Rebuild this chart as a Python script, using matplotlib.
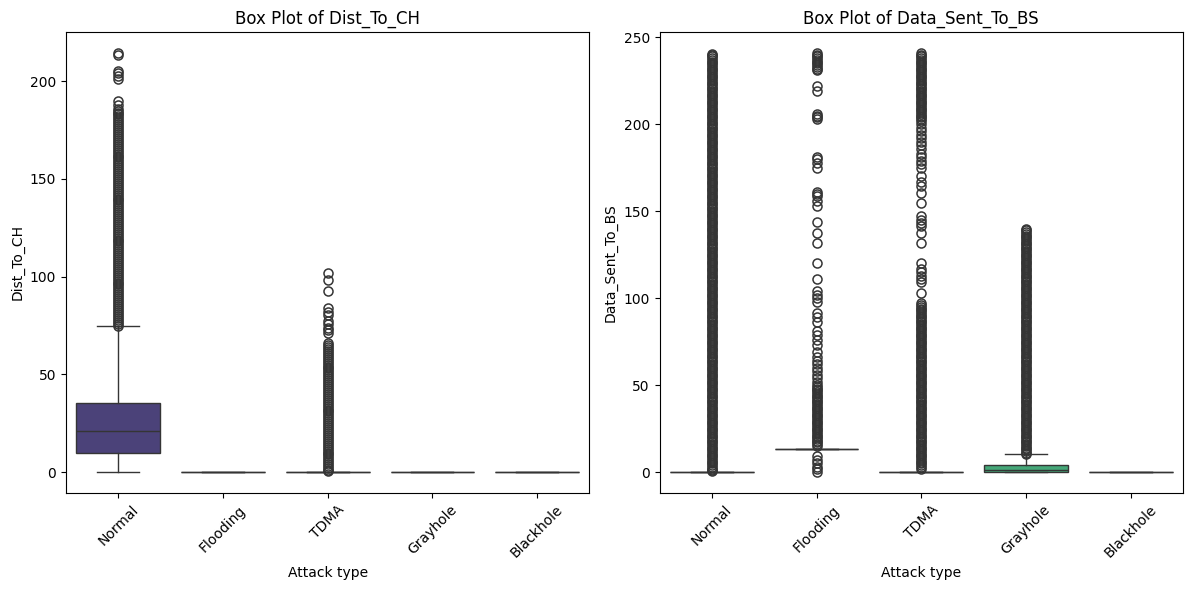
import matplotlib
matplotlib.use("Agg")
import matplotlib.pyplot as plt
import numpy as np
import colorsys

categories = ["Normal", "Flooding", "TDMA", "Grayhole", "Blackhole"]

# ---- Dist_To_CH : box statistics (q1, median, q3, whisker low, whisker high)
dist_q1 = [9.5, 0, 0, 0, 0]
dist_med = [21.0, 0, 0, 0, 0]
dist_q3 = [35.2, 0, 0, 0, 0]
dist_wlo = [0, 0, 0, 0, 0]
dist_whi = [74.7, 0, 0, 0, 0]

dist_out_normal = [
    75, 76, 77, 78, 79, 80, 81, 82, 83, 84, 85, 86, 87, 88, 89, 90, 91, 92, 93, 94,
    95, 96, 97, 98, 99, 100, 101, 102, 103, 104, 105, 106, 107, 108, 109, 110, 111, 112, 113, 114,
    115, 116, 117, 118, 119, 120, 121, 122, 123, 124, 125, 126, 127, 128, 129, 130, 131, 132, 133, 134,
    135, 136, 137, 138, 139, 140, 141, 142, 143, 144, 145, 146, 147, 148, 149, 150, 151, 152, 153, 154,
    155, 156, 157, 158, 159, 160, 161, 162, 163, 164, 165, 166, 167, 168, 169, 170, 171, 172, 173, 174,
    175, 176, 177, 178, 179, 180, 181, 182, 183, 184, 185, 186,
    188, 190, 201, 202.5, 204, 205.5, 213.5, 214.5]
dist_out_flooding = []
dist_out_tdma = [
    0.5, 1, 2, 3, 4, 5, 6, 7, 8, 9, 10, 11, 12, 13, 14, 15, 16, 17, 18, 19, 20,
    21, 22, 23, 24, 25, 26, 27, 28, 29, 30, 31, 32, 33, 34, 35, 36, 37, 38, 39, 40,
    41, 42, 43, 44, 45, 46, 47, 48, 49, 50, 51, 52, 53, 54, 55, 56, 57, 58, 59, 60,
    61, 62, 63, 64, 65, 65.8,
    71, 72.5, 73.5, 76, 77.5, 80.4, 82, 83.8, 92.5, 98.5, 102]
dist_out_grayhole = []
dist_out_blackhole = []

# ---- Data_Sent_To_BS : box statistics
data_q1 = [0, 13, 0, 0, 0]
data_med = [0, 13, 0, 1.0, 0]
data_q3 = [0, 13, 0, 4.2, 0]
data_wlo = [0, 13, 0, 0, 0]
data_whi = [0, 13, 0, 10.3, 0]

data_out_normal = [
    0.5, 1, 2, 3, 4, 5, 6, 7, 8, 9, 10, 11, 12, 13, 14, 15, 16, 17, 18, 19, 20,
    21, 22, 23, 24, 25, 26, 27, 28, 29, 30, 31, 32, 33, 34, 35, 36, 37, 38, 39, 40,
    41, 42, 43, 44, 45, 46, 47, 48, 49, 50, 51, 52, 53, 54, 55, 56, 57, 58, 59, 60,
    61, 62, 63, 64, 65, 66, 67, 68, 69, 70, 71, 72, 73, 74, 75, 76, 77, 78, 79, 80,
    81, 82, 83, 84, 85, 86, 87, 88, 89, 90, 91, 92, 93, 94, 95, 96, 97, 98, 99, 100,
    101, 102, 103, 104, 105, 106, 107, 108, 109, 110, 111, 112, 113, 114, 115, 116, 117, 118, 119, 120,
    121, 122, 123, 124, 125, 126, 127, 128, 129, 130, 131, 132, 133, 134, 135, 136, 137, 138, 139, 140,
    141, 142, 143, 144, 145, 146, 147, 148, 149, 150, 151, 152, 153, 154, 155, 156, 157, 158, 159, 160,
    161, 162, 163, 164, 165, 166, 167, 168, 169, 170, 171, 172, 173, 174, 175, 176, 177, 178, 179, 180,
    181, 182, 183, 184, 185, 186, 187, 188, 189, 190, 191, 192, 193, 194, 195, 196, 197, 198, 199, 200,
    201, 202, 203, 204, 205, 206, 207, 208, 209, 210, 211, 212, 213, 214, 215, 216, 217, 218, 219, 220,
    221, 222, 223, 224, 225, 226, 227, 228, 229, 230, 231, 232, 233, 234, 235, 236, 237, 238, 239, 240,
    240.5]
data_out_flooding = [
    0, 1.5, 3, 5, 7, 9.5,
    15, 16, 17, 18, 19, 20, 21, 22, 23, 24, 25, 26, 27, 28, 29, 30, 31, 32, 33, 34,
    35, 36, 37, 38, 39, 40, 41, 42, 43, 44, 45, 46, 47, 48, 49, 50,
    52, 54, 56, 58, 60, 62, 64, 66, 69, 73, 76, 79, 81, 86, 89, 91.5, 97.5, 100, 102, 104,
    111, 120, 132, 137.5, 144, 153, 156, 159, 160, 161, 175, 178, 180, 181,
    203, 204, 205, 206, 219, 222,
    231, 232, 233, 234, 235, 236, 237, 238, 239, 240, 241]
data_out_tdma = [
    2, 3, 4, 5, 6, 7, 8, 9, 10, 11, 12, 13, 14, 15, 16, 17, 18, 19, 20,
    21, 22, 23, 24, 25, 26, 27, 28, 29, 30, 31, 32, 33, 34, 35, 36, 37, 38, 39, 40,
    41, 42, 43, 44, 45, 46, 47, 48, 49, 50, 51, 52, 53, 54, 55, 56, 57, 58, 59, 60,
    61, 62, 63, 64, 65, 66, 67, 68, 69, 70, 71, 72, 73, 74, 75, 76, 77, 78, 79, 80,
    81, 82, 83, 84, 85, 86, 87, 88, 89, 90, 91, 92, 93, 94, 95, 96, 97,
    103, 109, 111, 113, 115, 117, 120.5, 132, 137.5, 141.5, 143, 145, 147,
    155, 160.5, 164.5, 167, 170, 175, 177, 179, 181, 183, 186, 188, 190, 192, 194,
    196, 198, 200,
    202, 203, 204, 205, 206, 207, 208, 209, 210, 211, 212, 213, 214, 215, 216, 217, 218, 219, 220,
    221, 222, 223, 224, 225, 226, 227, 228, 229, 230, 231, 232, 233, 234, 235, 236, 237, 238, 239, 240,
    241]
data_out_grayhole = [
    10.5, 11, 12, 13, 14, 15, 16, 17, 18, 19, 20,
    21, 22, 23, 24, 25, 26, 27, 28, 29, 30, 31, 32, 33, 34, 35, 36, 37, 38, 39, 40,
    41, 42, 43, 44, 45, 46, 47, 48, 49, 50, 51, 52, 53, 54, 55, 56, 57, 58, 59, 60,
    61, 62, 63, 64, 65, 66, 67, 68, 69, 70, 71, 72, 73, 74, 75, 76, 77, 78, 79, 80,
    81, 82, 83, 84, 85, 86, 87, 88, 89, 90, 91, 92, 93, 94, 95, 96, 97, 98, 99, 100,
    101, 102, 103, 104, 105, 106, 107, 108, 109, 110, 111, 112, 113, 114, 115, 116, 117, 118, 119, 120,
    121, 122, 123, 124, 125, 126, 127, 128, 129, 130, 131, 132, 133, 134, 135, 136, 137, 138, 139,
    139.5]
data_out_blackhole = []


def seaborn_palette(n=5, sat=0.75):
    cmap = matplotlib.colormaps["viridis"]
    pos = np.linspace(0, 1, n + 2)[1:-1]
    cols = []
    for p in pos:
        r, g, b, _ = cmap(p)
        h, l, s = colorsys.rgb_to_hls(r, g, b)
        cols.append(colorsys.hls_to_rgb(h, l, s * sat))
    return cols


colors = seaborn_palette(len(categories))
light = [colorsys.rgb_to_hls(*c)[1] for c in colors]
lum = min(light) * 0.6
linecolor = (lum, lum, lum)


def draw(ax, q1, med, q3, wlo, whi, outs, title, ylabel):
    stats = []
    for i, name in enumerate(categories):
        stats.append(dict(label=name, q1=q1[i], med=med[i], q3=q3[i],
                          whislo=wlo[i], whishi=whi[i], fliers=np.array(outs[i])))
    pos = np.arange(len(categories))
    res = ax.bxp(stats, positions=pos, widths=0.8, capwidths=0.4,
                 patch_artist=True, showfliers=True,
                 boxprops=dict(edgecolor=linecolor, linewidth=1.0),
                 medianprops=dict(color=linecolor, linewidth=1.0),
                 whiskerprops=dict(color=linecolor, linewidth=1.0),
                 capprops=dict(color=linecolor, linewidth=1.0),
                 flierprops=dict(marker="o", markerfacecolor="none",
                                 markeredgecolor=linecolor, markersize=6.5,
                                 markeredgewidth=1.1, linestyle="none"))
    for patch, c in zip(res["boxes"], colors):
        patch.set_facecolor(c)
    ax.set_xlim(-0.5, len(categories) - 0.5)
    ax.set_xticks(pos)
    ax.set_xticklabels(categories, rotation=45)
    ax.set_title(title, fontsize=12)
    ax.set_xlabel("Attack type")
    ax.set_ylabel(ylabel)


fig, axes = plt.subplots(1, 2, figsize=(11.89, 5.90), dpi=100)
draw(axes[0], dist_q1, dist_med, dist_q3, dist_wlo, dist_whi,
     [dist_out_normal, dist_out_flooding, dist_out_tdma, dist_out_grayhole, dist_out_blackhole],
     "Box Plot of Dist_To_CH", "Dist_To_CH")
draw(axes[1], data_q1, data_med, data_q3, data_wlo, data_whi,
     [data_out_normal, data_out_flooding, data_out_tdma, data_out_grayhole, data_out_blackhole],
     "Box Plot of Data_Sent_To_BS", "Data_Sent_To_BS")
axes[1].set_yticks([0, 50, 100, 150, 200, 250])
fig.subplots_adjust(left=66 / 1189, right=1183 / 1189, top=1 - 32 / 590,
                    bottom=1 - 493 / 590, wspace=70 / 522)
fig.savefig("out.png", dpi=100)
